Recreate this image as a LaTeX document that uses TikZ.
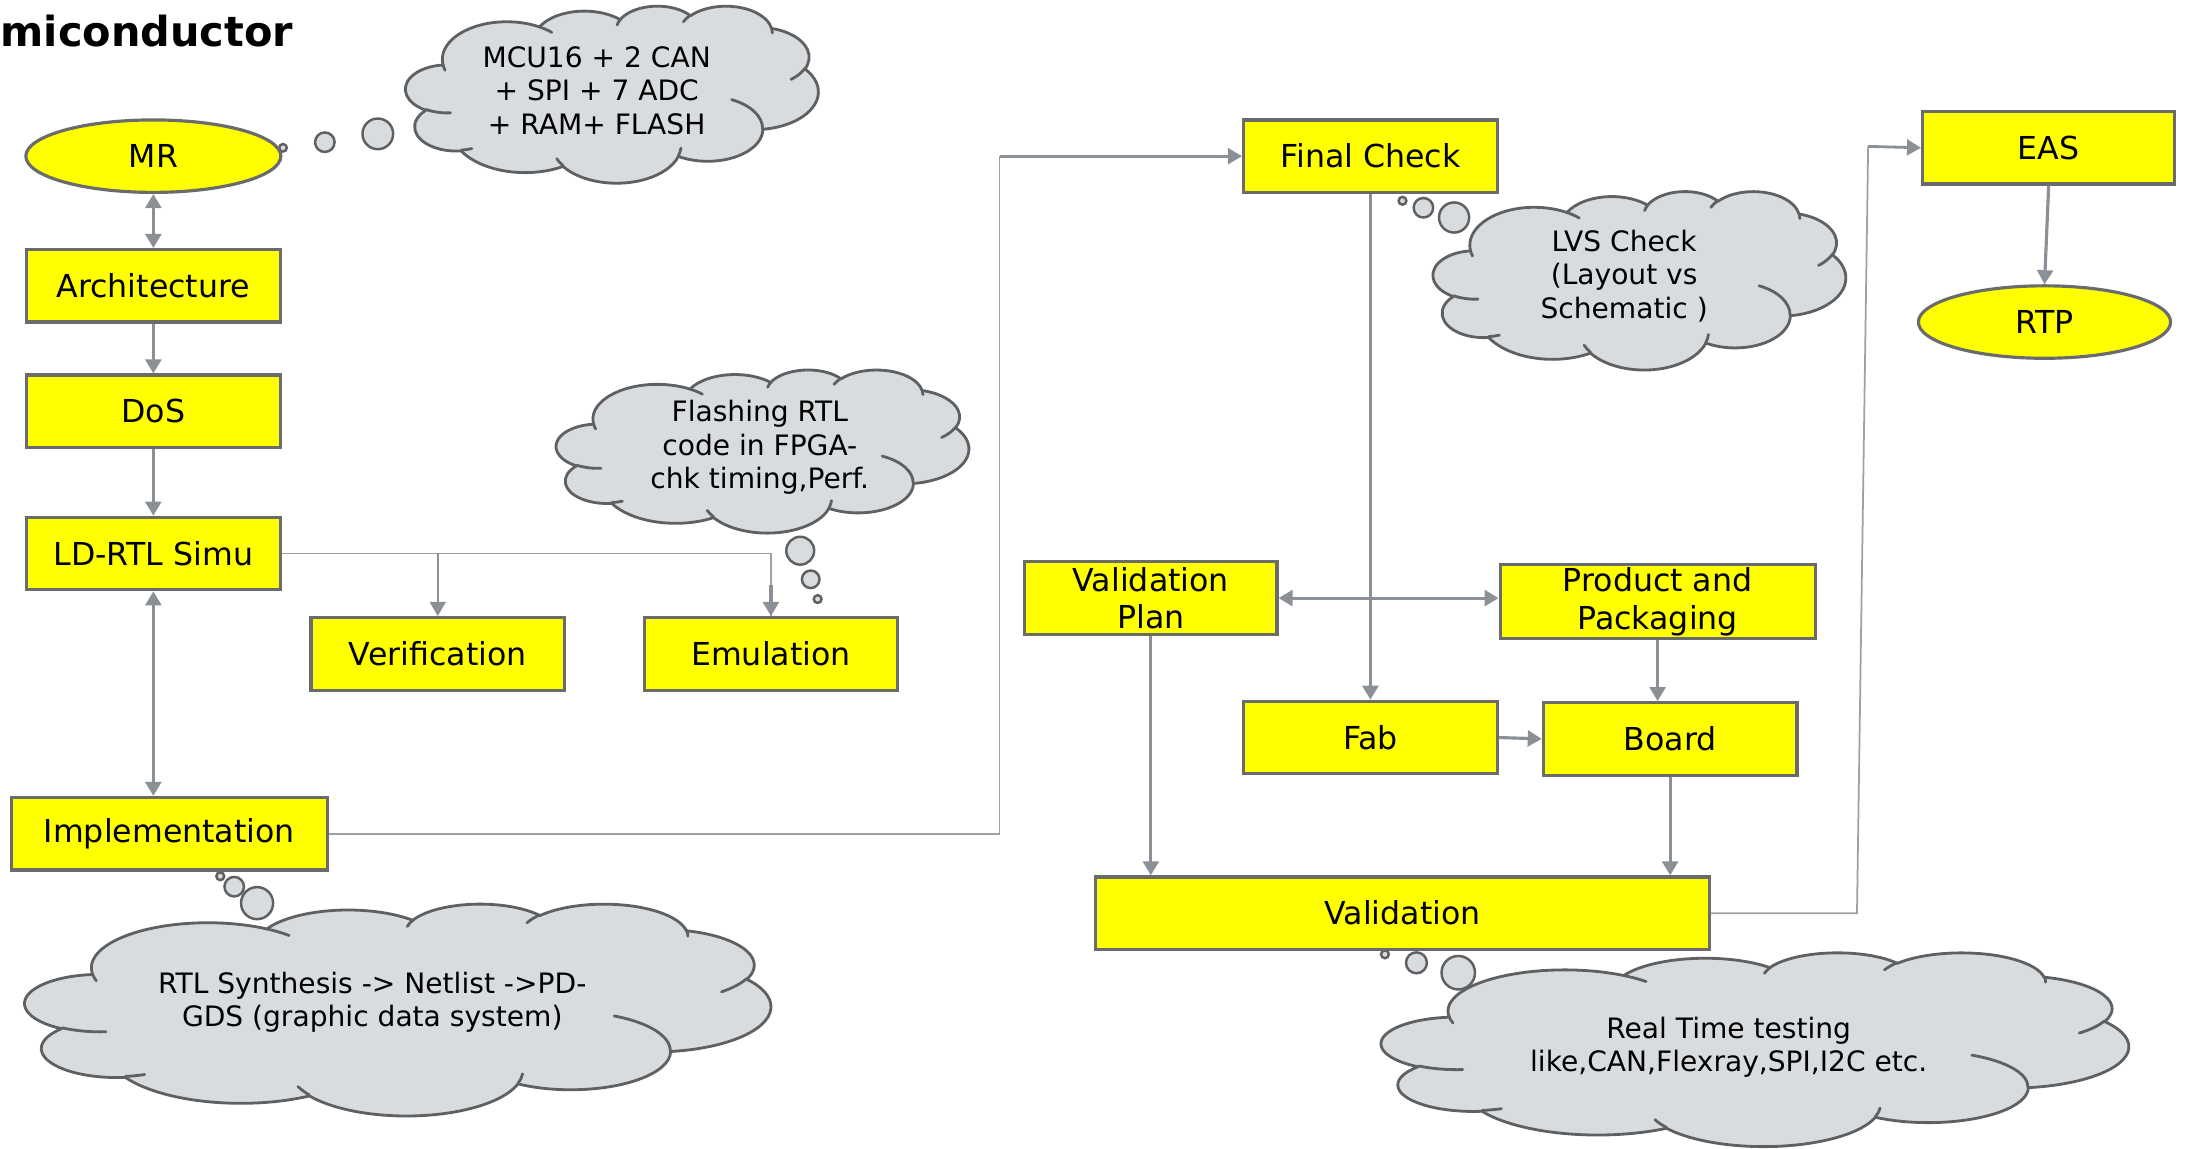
\documentclass[tikz,border=0pt]{standalone}
\usepackage{fontspec}
\setmainfont{DejaVu Sans}
\usetikzlibrary{shapes.geometric,arrows.meta}
\newcommand\dpx{0.39666pt}
\definecolor{boxyellow}{HTML}{FFFF00}
\definecolor{boxline}{HTML}{6A6B6D}
\definecolor{connc}{HTML}{8A9096}
\definecolor{cloudfill}{HTML}{D9DCDF}
\definecolor{cloudline}{HTML}{5E6062}
% visual (DrawingML) angles -> parametric start angle and sweep
\newcommand\cloudang[4]{%
  \pgfmathsetmacro\cloudA{(#3) + mod(atan2((#1)*sin(#3),(#2)*cos(#3)) - (#3) + 900, 360) - 180}%
  \pgfmathsetmacro\cloudB{(#3)+(#4) + mod(atan2((#1)*sin((#3)+(#4)),(#2)*cos((#3)+(#4))) - (#3) - (#4) + 900, 360) - 180}%
  \pgfmathsetmacro\cloudD{\cloudB-\cloudA}%
  \xdef\cloudA{\cloudA}\xdef\cloudD{\cloudD}}
% cloud drawn in a 432 x 432 frame, placed at top-left (#1,#2), size #3 x #4
\newcommand\pptcloud[4]{%
  \pgfmathsetmacro\cloudsx{(#3)*0.39666/432}%
  \pgfmathsetmacro\cloudsy{(#4)*0.39666/432}%
  \begin{scope}[shift={(#1,#2)}]
  \begin{scope}[x=\cloudsx pt,y=-\cloudsy pt]
  \path[cloudbody] (39,143.7)
   \pgfextra{\cloudang{67.53}{91.90}{-190.4875}{123.7805}} arc[start angle=\cloudA,delta angle=\cloudD,x radius=67.53,y radius=91.90]
   \pgfextra{\cloudang{53.33}{72.67}{-144.1024}{89.9452}} arc[start angle=\cloudA,delta angle=\cloudD,x radius=53.33,y radius=72.67]
   \pgfextra{\cloudang{43.65}{59.45}{-145.8079}{99.7230}} arc[start angle=\cloudA,delta angle=\cloudD,x radius=43.65,y radius=59.45]
   \pgfextra{\cloudang{48.57}{65.95}{-130.9861}{117.2417}} arc[start angle=\cloudA,delta angle=\cloudD,x radius=48.57,y radius=65.95]
   \pgfextra{\cloudang{53.33}{72.73}{-78.7089}{109.0269}} arc[start angle=\cloudA,delta angle=\cloudD,x radius=53.33,y radius=72.73]
   \pgfextra{\cloudang{67.75}{92.20}{-46.2673}{130.2690}} arc[start angle=\cloudA,delta angle=\cloudD,x radius=67.75,y radius=92.20]
   \pgfextra{\cloudang{57.85}{78.67}{0.6250}{114.0333}} arc[start angle=\cloudA,delta angle=\cloudD,x radius=57.85,y radius=78.67]
   \pgfextra{\cloudang{67.52}{92.15}{22.4516}{115.1726}} arc[start angle=\cloudA,delta angle=\cloudD,x radius=67.52,y radius=92.15]
   \pgfextra{\cloudang{77.20}{105.43}{66.2426}{75.7110}} arc[start angle=\cloudA,delta angle=\cloudD,x radius=77.20,y radius=105.43]
   \pgfextra{\cloudang{43.60}{59.18}{-274.9421}{146.7356}} arc[start angle=\cloudA,delta angle=\cloudD,x radius=43.60,y radius=59.18]
   \pgfextra{\cloudang{43.45}{59.45}{-246.8285}{152.5189}} arc[start angle=\cloudA,delta angle=\cloudD,x radius=43.45,y radius=59.45]
   -- cycle;
  \path[cloudinner]
   (46.93,261.77) \pgfextra{\cloudang{43.45}{59.45}{86.7420}{26.4295}} arc[start angle=\cloudA,delta angle=\cloudD,x radius=43.45,y radius=59.45]
   (69.28,348.99) \pgfextra{\cloudang{43.60}{59.18}{73.6105}{11.4475}} arc[start angle=\cloudA,delta angle=\cloudD,x radius=43.60,y radius=59.18]
   (164.78,390.90) \pgfextra{\cloudang{67.52}{92.15}{137.6242}{14.0811}} arc[start angle=\cloudA,delta angle=\cloudD,x radius=67.52,y radius=92.15]
   (288.27,347.51) \pgfextra{\cloudang{67.52}{92.15}{6.4533}{15.9984}} arc[start angle=\cloudA,delta angle=\cloudD,x radius=67.52,y radius=92.15]
   (341.29,229.54) \pgfextra{\cloudang{57.85}{78.67}{-70.2924}{70.9174}} arc[start angle=\cloudA,delta angle=\cloudD,x radius=57.85,y radius=78.67]
   (417.98,153.54) \pgfextra{\cloudang{53.33}{72.73}{30.3180}{27.7515}} arc[start angle=\cloudA,delta angle=\cloudD,x radius=53.33,y radius=72.73]
   (383.24,54.26) \pgfextra{\cloudang{48.57}{65.95}{-13.7443}{14.8589}} arc[start angle=\cloudA,delta angle=\cloudD,x radius=48.57,y radius=65.95]
   (290.78,39.52) \pgfextra{\cloudang{48.57}{65.95}{-149.1815}{18.1954}} arc[start angle=\cloudA,delta angle=\cloudD,x radius=48.57,y radius=65.95]
   (221.41,47.20) \pgfextra{\cloudang{43.65}{59.45}{-163.4943}{17.6864}} arc[start angle=\cloudA,delta angle=\cloudD,x radius=43.65,y radius=59.45]
   (140.00,51.92) \pgfextra{\cloudang{67.53}{91.90}{-66.7070}{12.3194}} arc[start angle=\cloudA,delta angle=\cloudD,x radius=67.53,y radius=91.90]
   (41.27,157.89) \pgfextra{\cloudang{67.53}{91.90}{157.6544}{11.8582}} arc[start angle=\cloudA,delta angle=\cloudD,x radius=67.53,y radius=91.90];
  \end{scope}
  \end{scope}}
\begin{document}
\begin{tikzpicture}[x=0.013941cm,y=-0.013941cm,
  box/.style={rectangle,draw=boxline,fill=boxyellow,line width=0.9pt,inner sep=0pt,
    font=\fontsize{9}{10.7}\selectfont,align=center,minimum height=52*\dpx},
  oval/.style={ellipse,draw=boxline,fill=boxyellow,line width=0.9pt,inner sep=0pt,
    font=\fontsize{9}{10.7}\selectfont,minimum height=52*\dpx},
  conn/.style={draw=connc,line width=0.9pt,-{Triangle[length=4pt,width=4.5pt]}},
  dconn/.style={draw=connc,line width=0.9pt,{Triangle[length=4pt,width=4.5pt]}-{Triangle[length=4pt,width=4.5pt]}},
  tconn/.style={draw=connc!85,line width=0.5pt},
  cloudbody/.style={draw=cloudline,fill=cloudfill,line width=0.8pt,line join=round},
  cloudinner/.style={draw=cloudline,line width=0.8pt,line cap=round},
  bubble/.style={draw=cloudline,fill=cloudfill,line width=0.7pt},
  cloudtext/.style={font=\fontsize{8}{9.5}\selectfont,align=center,inner sep=0pt}
]
\useasboundingbox (0,0) rectangle (1568,824);

% title
\node[anchor=base west,inner sep=0pt,font=\fontsize{11.8}{14}\selectfont\bfseries] (title) at (0,33) {miconductor};

% clouds
\pptcloud{291}{4}{296}{127}
\node[cloudtext] (t1) at (428,65) {MCU16 + 2 CAN\\+ SPI + 7 ADC\\+ RAM+ FLASH};
\pptcloud{399}{265}{296}{117}
\node[cloudtext] (t2) at (545,321) {Flashing RTL\\code in FPGA-\\chk timing,Perf.};
\pptcloud{1028}{137}{296}{128}
\node[cloudtext] (t3) at (1165,198) {LVS Check\\(Layout vs\\Schematic )};
\pptcloud{18}{648}{535}{152}
\node[cloudtext] (t4) at (267,719) {RTL Synthesis -> Netlist ->PD-\\GDS (graphic data system)};
\pptcloud{991}{683}{536}{139}
\node[cloudtext] (t5) at (1240,751) {Real Time testing\\like,CAN,Flexray,SPI,I2C etc.};

% bubbles
\draw[bubble] (203,106) circle[radius=2.7];
\draw[bubble] (233,102) circle[radius=7];
\draw[bubble] (271,96) circle[radius=11];
\draw[bubble] (574,395) circle[radius=10];
\draw[bubble] (581.5,415.5) circle[radius=6.3];
\draw[bubble] (586.5,429.7) circle[radius=2.8];
\draw[bubble] (1006,144) circle[radius=2.8];
\draw[bubble] (1021,149) circle[radius=7];
\draw[bubble] (1043,156) circle[radius=10.8];
\draw[bubble] (158,628.5) circle[radius=2.8];
\draw[bubble] (168,636) circle[radius=7];
\draw[bubble] (184.4,647.8) circle[radius=11.5];
\draw[bubble] (993.4,684.5) circle[radius=2.8];
\draw[bubble] (1016,690.6) circle[radius=7.5];
\draw[bubble] (1046,697.7) circle[radius=12];

% nodes
\node[oval,minimum width=183*\dpx] (mr) at (110,112) {MR};
\node[box,minimum width=182*\dpx] (arch) at (110,205) {Architecture};
\node[box,minimum width=182*\dpx] (dos) at (110,295) {DoS};
\node[box,minimum width=182*\dpx] (ld) at (110,397) {LD-RTL Simu};
\node[box,minimum width=182*\dpx] (verif) at (314,469) {Verification};
\node[box,minimum width=182*\dpx] (emul) at (553,469) {Emulation};
\node[box,minimum width=227*\dpx] (impl) at (121.5,598) {Implementation};
\node[box,minimum width=182*\dpx] (final) at (983,112) {Final Check};
\node[box,minimum width=181*\dpx] (eas) at (1469.5,106) {EAS};
\node[oval,minimum width=181*\dpx] (rtp) at (1466.5,231) {RTP};
\node[box,minimum width=181*\dpx] (vplan) at (825.5,429) {Validation\\Plan};
\node[box,minimum width=226*\dpx,minimum height=53*\dpx] (prod) at (1189,431.5) {Product and\\Packaging};
\node[box,minimum width=182*\dpx] (fab) at (983,529) {Fab};
\node[box,minimum width=182*\dpx] (board) at (1198,530) {Board};
\node[box,minimum width=440*\dpx] (valid) at (1006,655) {Validation};

% connectors
\draw[dconn] (mr) -- (arch);
\draw[conn] (arch) -- (dos);
\draw[conn] (dos) -- (ld);
\draw[tconn] (ld.east) -| (emul.north);
\draw[conn] (emul.north) ++(0,-22) -- (emul.north);
\draw[conn,line width=0.6pt] (ld.east -| verif.north) -- (verif.north);
\draw[dconn] (ld.south) -- (ld.south |- impl.north);
\coordinate (jog) at (717,0);
\draw[tconn] (impl.east) -- (jog |- impl.east) -- (jog |- final.west);
\draw[conn,line width=0.8pt] (jog |- final.west) -- (final.west);
\draw[conn] (final) -- (fab);
\draw[dconn] (vplan.east) -- (vplan.east -| prod.west);
\draw[conn] (prod.south) -- (prod.south |- board.north);
\draw[conn] (fab.east) -- (board.west);
\draw[conn] (vplan.south) -- (vplan.south |- valid.north);
\draw[conn] (board.south) -- (board.south |- valid.north);
\coordinate (vb) at (1332,655);
\coordinate (vt) at (1340,105);
\draw[tconn] (valid.east) -- (vb) -- (vt);
\draw[conn,line width=0.8pt] (vt) -- (eas.west);
\draw[conn] (eas.south) -- (rtp.north);
\end{tikzpicture}
\end{document}
